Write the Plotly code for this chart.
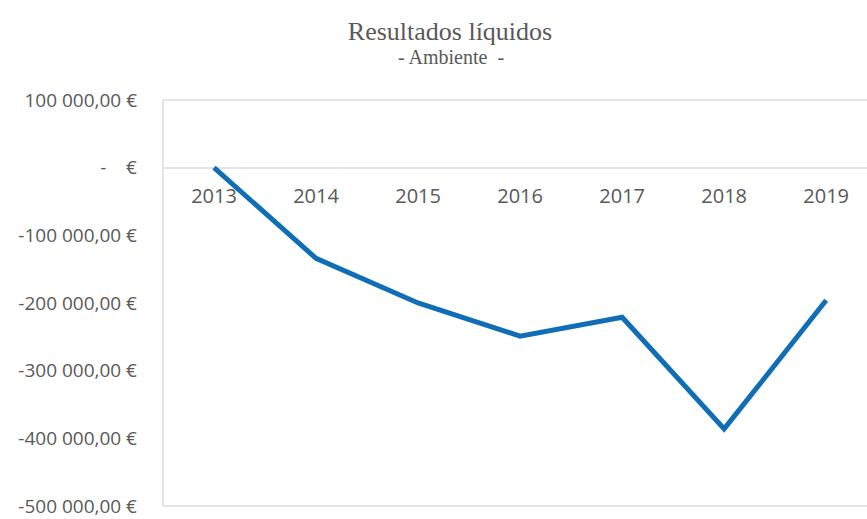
import plotly.graph_objects as go

# Annual net results (EUR)
years = ["2013", "2014", "2015", "2016", "2017", "2018", "2019"]
results = [0, -134000, -200000, -249000, -221000, -386000, -196000]

# Y-axis ticks in accounting format
y_tickvals = [100000, 0, -100000, -200000, -300000, -400000, -500000]
y_ticktext = [
    "100 000,00 €",
    "-\u00a0\u00a0\u00a0\u00a0€",
    "-100 000,00 €",
    "-200 000,00 €",
    "-300 000,00 €",
    "-400 000,00 €",
    "-500 000,00 €",
]

W, H = 867, 519
ML, MR, MT, MB = 163, 0, 100, 13
Y_MIN, Y_MAX = -500000, 100000
text_color = "#595959"
border_color = "#E4E4E4"

fig = go.Figure()
fig.add_trace(go.Scatter(
    x=years, y=results, mode="lines",
    line=dict(color="#106EB6", width=5),
    hoverinfo="skip", showlegend=False,
))

# x axis sits on the zero line
zero_pos = (0 - Y_MIN) / (Y_MAX - Y_MIN)

fig.update_layout(
    width=W, height=H,
    margin=dict(l=ML, r=MR, t=MT, b=MB, autoexpand=False),
    paper_bgcolor="white", plot_bgcolor="white",
    font=dict(family="Open Sans", color=text_color, size=19),
    xaxis=dict(
        type="category", range=[-0.5, 6.4],
        showgrid=False, zeroline=False, showline=False,
        ticks="", anchor="free", position=zero_pos,
        ticklabelstandoff=14, ticklabeloverflow="allow",
        tickfont=dict(family="Open Sans", size=20, color=text_color),
    ),
    yaxis=dict(
        range=[Y_MIN, Y_MAX], tickvals=y_tickvals, ticktext=y_ticktext,
        showgrid=False, zeroline=True, zerolinecolor=border_color, zerolinewidth=2,
        showline=False, ticks="", ticklabelstandoff=25, ticklabeloverflow="allow",
        tickfont=dict(family="Open Sans", size=19, color=text_color),
    ),
    title=dict(
        text="Resultados líquidos", x=450 / W, xanchor="center",
        y=1 - 31 / H, yanchor="middle", xref="container", yref="container",
        font=dict(family="Liberation Serif", size=26, color=text_color),
    ),
    annotations=[dict(
        text="- Ambiente\u00a0 -", xref="paper", yref="paper",
        x=(451 - ML) / (W - ML - MR), y=1 + (MT - 57) / (H - MT - MB),
        xanchor="center", yanchor="middle", showarrow=False,
        font=dict(family="Liberation Serif", size=20, color=text_color),
    )],
    shapes=[
        dict(type="line", xref="paper", yref="paper", x0=0, x1=1, y0=1, y1=1,
             line=dict(color=border_color, width=2)),
        dict(type="line", xref="paper", yref="paper", x0=0, x1=1, y0=0, y1=0,
             line=dict(color=border_color, width=2)),
        dict(type="line", xref="paper", yref="paper", x0=0, x1=0, y0=0, y1=1,
             line=dict(color=border_color, width=2)),
    ],
)

fig.write_html("out.html")
